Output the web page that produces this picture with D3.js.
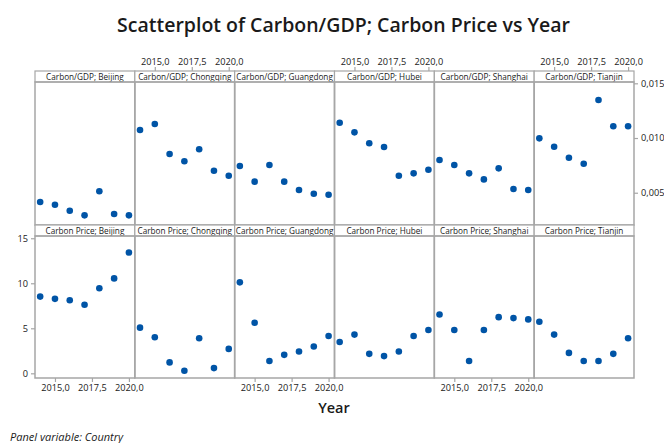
<!DOCTYPE html>
<html>
<head>
<meta charset="utf-8">
<script src="https://cdn.jsdelivr.net/npm/d3@7"></script>
<style>
  body { margin: 0; background: #fff; }
  svg { display: block; font-family: "Open Sans", "Noto Sans", sans-serif; }
</style>
</head>
<body>
<svg id="chart" width="664" height="443"></svg>
<script>
// Panels (one per country) and the years on the x axis
const countries = ["Beijing", "Chongqing", "Guangdong", "Hubei", "Shanghai", "Tianjin"];
const years = [2014, 2015, 2016, 2017, 2018, 2019, 2020];

// Carbon emissions per unit of GDP
const carbonGdp = {
  Beijing:   [0.00415, 0.0039, 0.00335, 0.00293, 0.00513, 0.00305, 0.00293],
  Chongqing: [0.01073, 0.01128, 0.00854, 0.00787, 0.00897, 0.00701, 0.00655],
  Guangdong: [0.00744, 0.00601, 0.00753, 0.00601, 0.00525, 0.00491, 0.00482],
  Hubei:     [0.0114, 0.01052, 0.00952, 0.00918, 0.00655, 0.00677, 0.0071],
  Shanghai:  [0.00799, 0.00753, 0.00677, 0.00622, 0.00723, 0.00534, 0.00525],
  Tianjin:   [0.00997, 0.0092, 0.0082, 0.00765, 0.01347, 0.01107, 0.01107]
};

// Carbon price
const carbonPrice = {
  Beijing:   [8.52, 8.27, 8.11, 7.61, 9.44, 10.54, 13.41],
  Chongqing: [5.07, 4.0, 1.21, 0.29, 3.89, 0.58, 2.71],
  Guangdong: [10.1, 5.62, 1.36, 2.05, 2.43, 2.98, 4.15],
  Hubei:     [3.48, 4.3, 2.16, 1.91, 2.43, 4.15, 4.81],
  Shanghai:  [6.54, 4.81, 1.36, 4.81, 6.24, 6.13, 5.99],
  Tianjin:   [5.73, 4.3, 2.27, 1.36, 1.36, 2.16, 3.89]
};

const yearTicks = [2015, 2017.5, 2020];
const gdpTicks = [0.005, 0.010, 0.015];
const priceTicks = [0, 5, 10, 15];

const rows = [
  { name: "Carbon/GDP", data: carbonGdp, domain: [0.00205, 0.01512], ticks: gdpTicks, fmt: d => d3.format(".3f")(d).replace(".", ",") },
  { name: "Carbon Price", data: carbonPrice, domain: [-0.52, 15.25], ticks: priceTicks, fmt: d => String(d) }
];

const svg = d3.select("#chart");
const dotColor = "#0054a6";
const frameColor = "#a6a6a6";
const textColor = "#1a1a1a";

// Grid geometry
const gridLeft = 35, gridRight = 634;
const panelW = (gridRight - gridLeft) / countries.length;
const rowTops = [71, 225];
const stripH = 11;
const rowBottoms = [225, 378];

const x = d3.scaleLinear().domain([2013.65, 2020.4]).range([0, panelW]);
const fmtYear = d => d3.format(".1f")(d).replace(".", ",");

// Title
svg.append("text")
  .attr("x", 343.5).attr("y", 32)
  .attr("text-anchor", "middle")
  .attr("font-size", 19.5).attr("font-weight", 600)
  .attr("fill", textColor)
  .text("Scatterplot of Carbon/GDP; Carbon Price vs Year");

rows.forEach((row, ri) => {
  const top = rowTops[ri];
  const plotTop = top + stripH;
  const bottom = rowBottoms[ri];
  const y = d3.scaleLinear().domain(row.domain).range([bottom, plotTop]);

  countries.forEach((c, ci) => {
    const px = gridLeft + ci * panelW;
    const g = svg.append("g").attr("transform", `translate(${px},0)`);

    // Strip header
    g.append("rect")
      .attr("x", 0).attr("y", top).attr("width", panelW).attr("height", stripH)
      .attr("fill", "#fff").attr("stroke", frameColor).attr("stroke-width", 1.2);
    g.append("text")
      .attr("x", panelW / 2).attr("y", top + stripH / 2 + 3)
      .attr("text-anchor", "middle")
      .attr("font-size", 8.2).attr("fill", textColor)
      .text(`${row.name}; ${c}`);

    // Panel frame
    g.append("rect")
      .attr("x", 0).attr("y", plotTop).attr("width", panelW).attr("height", bottom - plotTop)
      .attr("fill", "none").attr("stroke", frameColor).attr("stroke-width", 1.5);

    // Points
    g.selectAll("circle")
      .data(row.data[c].map((v, i) => ({ year: years[i], v })))
      .join("circle")
      .attr("cx", d => x(d.year))
      .attr("cy", d => y(d.v))
      .attr("r", 3.3)
      .attr("fill", dotColor);

    // Year axes alternate: top on odd panels of row 1, bottom on even panels of row 2
    if (ri === 0 && ci % 2 === 1) {
      const ax = g.append("g").attr("transform", `translate(0,${top})`)
        .call(d3.axisTop(x).tickValues(yearTicks).tickFormat(fmtYear).tickSize(4).tickPadding(2));
      styleAxis(ax);
    }
    if (ri === 1 && ci % 2 === 0) {
      const ax = g.append("g").attr("transform", `translate(0,${bottom})`)
        .call(d3.axisBottom(x).tickValues(yearTicks).tickFormat(fmtYear).tickSize(4).tickPadding(2));
      styleAxis(ax);
    }
  });

  // Value axes: right side for the top row, left side for the bottom row
  if (ri === 0) {
    const ax = svg.append("g").attr("transform", `translate(${gridRight},0)`)
      .call(d3.axisRight(y).tickValues(row.ticks).tickFormat(row.fmt).tickSize(4).tickPadding(3));
    styleAxis(ax);
  } else {
    const ax = svg.append("g").attr("transform", `translate(${gridLeft},0)`)
      .call(d3.axisLeft(y).tickValues(row.ticks).tickFormat(row.fmt).tickSize(4).tickPadding(3));
    styleAxis(ax);
  }
});

function styleAxis(ax) {
  ax.select(".domain").remove();
  ax.selectAll(".tick line").attr("stroke", frameColor).attr("stroke-width", 1.2);
  ax.selectAll(".tick text").attr("font-size", 9.2).attr("fill", textColor)
    .attr("font-family", "\"Open Sans\", \"Noto Sans\", sans-serif");
}

// Axis title
svg.append("text")
  .attr("x", 334).attr("y", 413)
  .attr("text-anchor", "middle")
  .attr("font-size", 14.5).attr("font-weight", 600)
  .attr("fill", textColor)
  .text("Year");

// Footnote
svg.append("text")
  .attr("x", 10).attr("y", 441)
  .attr("font-size", 11).attr("font-style", "italic")
  .attr("fill", textColor)
  .text("Panel variable: Country");
</script>
</body>
</html>
